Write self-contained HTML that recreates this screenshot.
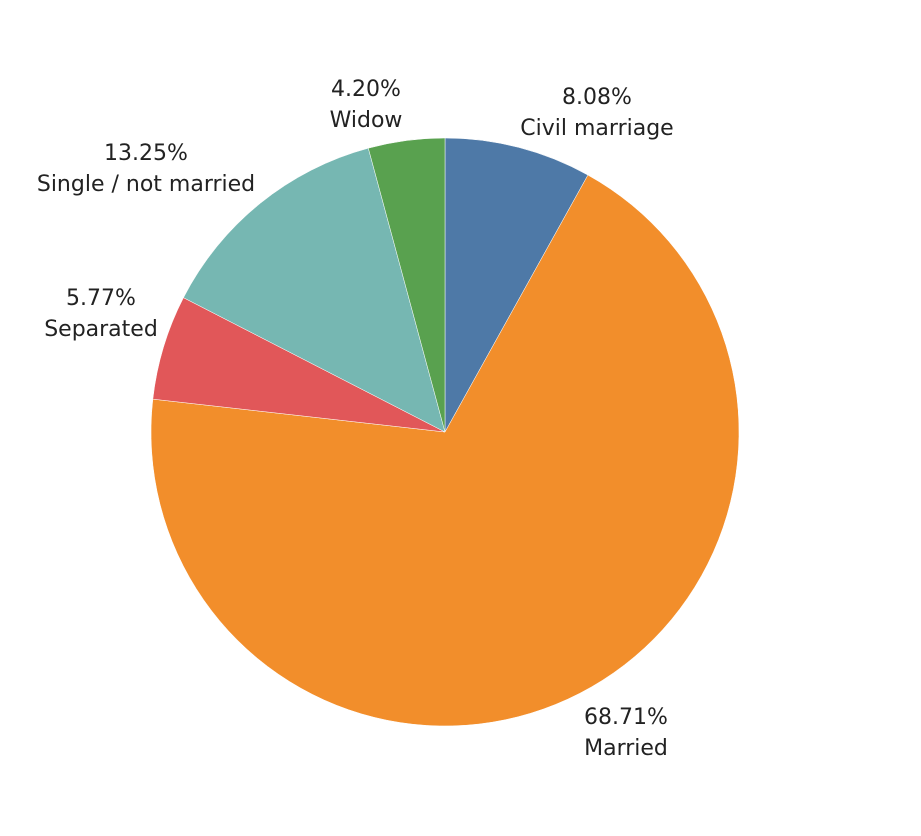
<!DOCTYPE html>
<html><head><meta charset="utf-8"><style>
html,body{margin:0;padding:0;background:#fff;}
svg{display:block;font-family:"DejaVu Sans","Liberation Sans",sans-serif;}
</style></head><body>
<svg id="chart" width="921" height="836"></svg>
<script>
const categories = ["Civil marriage","Married","Separated","Single / not married","Widow"];
const values = [8.08, 68.71, 5.77, 13.25, 4.20];
const valueLabels = ["8.08%","68.71%","5.77%","13.25%","4.20%"];
const colors = ["#4e79a7","#f28e2b","#e15759","#76b7b2","#59a14f"];
const labelPos = [[597,104],[626,724],[101,305],[146,160],[366,96]];
const cx=445, cy=432, r=294;
const ns="http://www.w3.org/2000/svg";
const svg=document.getElementById('chart');
const total=values.reduce((a,b)=>a+b,0);
let acc=0;
function pt(frac){const a=frac*2*Math.PI-Math.PI/2;return [cx+r*Math.cos(a),cy+r*Math.sin(a)];}
values.forEach((v,i)=>{
  const f0=acc/total; acc+=v; const f1=acc/total;
  const [x0,y0]=pt(f0),[x1,y1]=pt(f1);
  const large=(f1-f0)>0.5?1:0;
  const p=document.createElementNS(ns,'path');
  p.setAttribute('d',`M${cx},${cy}L${x0},${y0}A${r},${r} 0 ${large} 1 ${x1},${y1}Z`);
  p.setAttribute('fill',colors[i]);
  p.setAttribute('stroke','#fff');p.setAttribute('stroke-width','0.5');
  
  
  svg.appendChild(p);
  const [lx,ly]=labelPos[i];
  const t=document.createElementNS(ns,'text');
  t.setAttribute('x',lx);t.setAttribute('y',ly);
  t.setAttribute('text-anchor','middle');t.setAttribute('font-size','22');t.setAttribute('fill','#222');
  
  
  const s1=document.createElementNS(ns,'tspan');s1.setAttribute('x',lx);s1.textContent=valueLabels[i];
  const s2=document.createElementNS(ns,'tspan');s2.setAttribute('x',lx);s2.setAttribute('dy','31');s2.textContent=categories[i];
  t.appendChild(s1);t.appendChild(s2);
  svg.appendChild(t);
});
</script>
</body></html>
